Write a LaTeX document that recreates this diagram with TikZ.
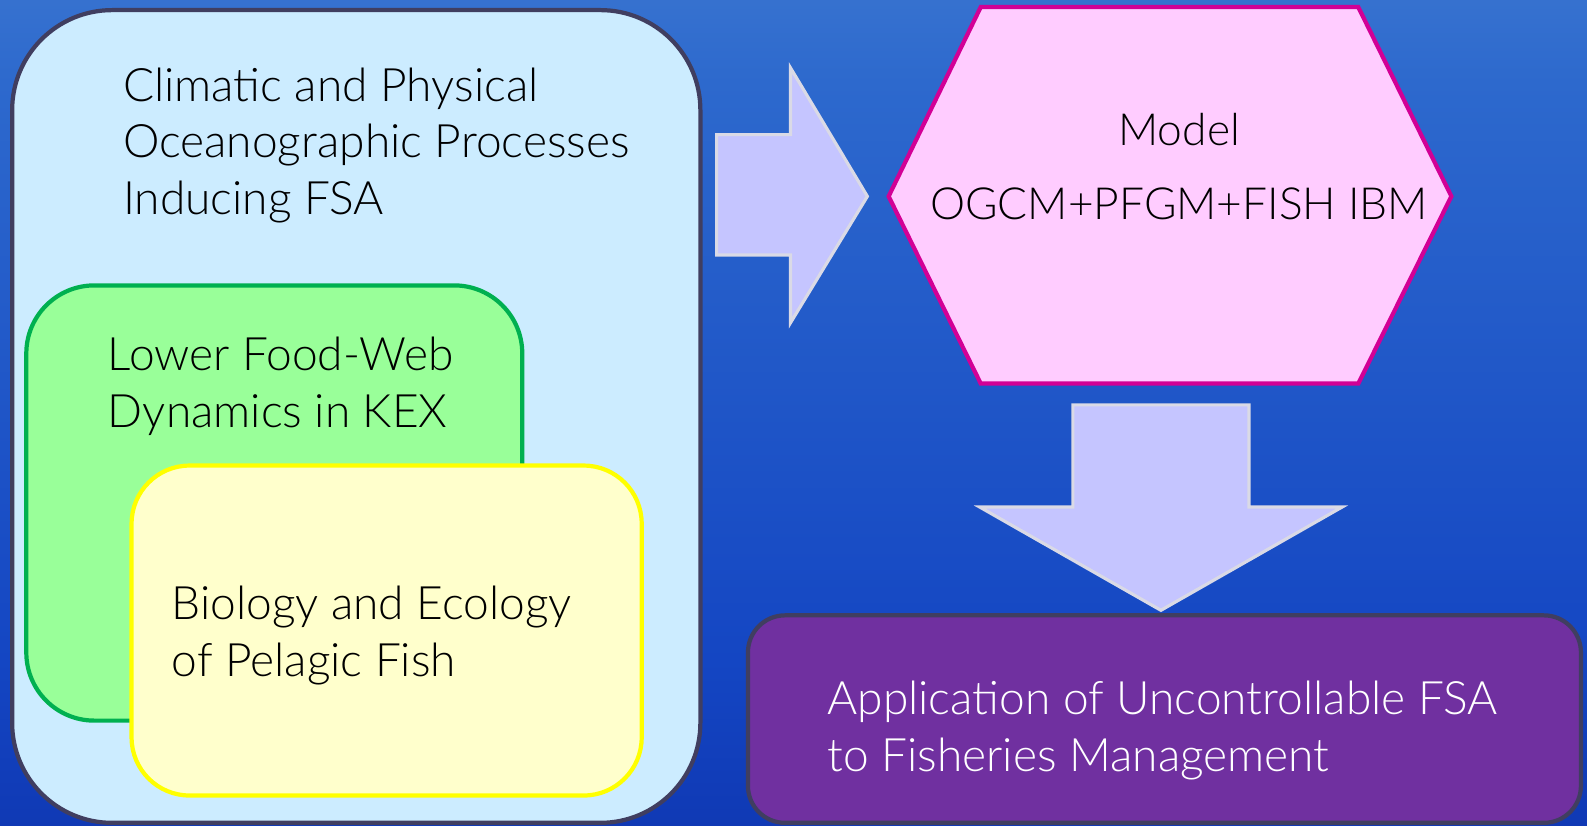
\documentclass[tikz,border=0pt]{standalone}
\usepackage{fontspec}
\IfFontExistsTF{Lato Light}
  {\newfontfamily\lightfont{Lato Light}\def\textpt{13.1}\def\modelpt{12.6}}
  {\newfontfamily\lightfont{Carlito}\def\textpt{13.8}\def\modelpt{13.8}}
\usepackage{tikz}

\definecolor{seatop}{RGB}{100,155,220}
\definecolor{seaup}{RGB}{45,105,205}
\definecolor{seamid}{RGB}{20,70,195}
\definecolor{seadeep}{RGB}{5,25,145}
\definecolor{rimgray}{RGB}{64,62,96}
\definecolor{skyfill}{RGB}{204,236,255}
\definecolor{webgreen}{RGB}{0,176,80}
\definecolor{webfill}{RGB}{153,255,153}
\definecolor{fishrim}{RGB}{255,255,0}
\definecolor{fishfill}{RGB}{255,255,204}
\definecolor{modelrim}{RGB}{210,0,150}
\definecolor{modelfill}{RGB}{255,204,255}
\definecolor{arrowfill}{RGB}{197,197,255}
\definecolor{arrowedge}{RGB}{218,218,230}
\definecolor{applyfill}{RGB}{112,48,160}

\pgfdeclareverticalshading{seashade}{100bp}{color(0bp)=(seadeep); color(35bp)=(seamid); color(70bp)=(seaup); color(100bp)=(seatop)}

\begin{document}
\begin{tikzpicture}[
  x=0.010121cm, y=0.010121cm,
  panel/.style={line width=1.2pt, rounded corners=#1},
  boxtext/.style={font=\lightfont\fontsize{\textpt}{16.2}\selectfont, align=left, anchor=north west, inner sep=0pt},
  blockarrow/.style={draw=arrowedge, fill=arrowfill, line width=0.9pt, line join=miter},
]
  \shade[shading=seashade] (0,0) rectangle (1568,816);
  \useasboundingbox (0,0) rectangle (1568,816);

  % nested process boxes
  \draw[panel=1cm, draw=rimgray, fill=skyfill] (12,3) rectangle (692,806);
  \draw[panel=0.68cm, draw=webgreen, fill=webfill] (26,104) rectangle (516,534);
  \draw[panel=0.58cm, draw=fishrim, fill=fishfill] (130,30) rectangle (634,356);

  \node[boxtext] (climate) at (121,750) {Climatic and Physical\\Oceanographic Processes\\Inducing FSA};
  \node[boxtext] (foodweb) at (106,484) {Lower Food-Web\\Dynamics in KEX};
  \node[boxtext] (fish) at (169,238) {Biology and Ecology\\of Pelagic Fish};

  % model hexagon and block arrows
  \draw[blockarrow] (708,564) -- (781,564) -- (781,497) -- (857,622) -- (781,749) -- (781,683) -- (708,683) -- cycle;
  \draw[line width=1.2pt, draw=modelrim, fill=modelfill, line join=miter]
    (969,809) -- (1342,809) -- (1434,622) -- (1342,437) -- (969,437) -- (878,622) -- cycle;
  \node[boxtext, align=center, anchor=north, font=\lightfont\fontsize{\modelpt}{21.2}\selectfont] (model) at (1165,705) {Model\\OGCM+PFGM+FISH IBM};
  \draw[blockarrow] (1060,416) -- (1234,416) -- (1234,315) -- (1326,315) -- (1147,213) -- (968,315) -- (1060,315) -- cycle;

  \draw[panel=0.37cm, draw=rimgray, fill=applyfill] (739,3) rectangle (1562,208);
  \node[boxtext, text=white] (apply) at (817,144) {Application of Uncontrollable FSA\\to Fisheries Management};
\end{tikzpicture}
\end{document}
